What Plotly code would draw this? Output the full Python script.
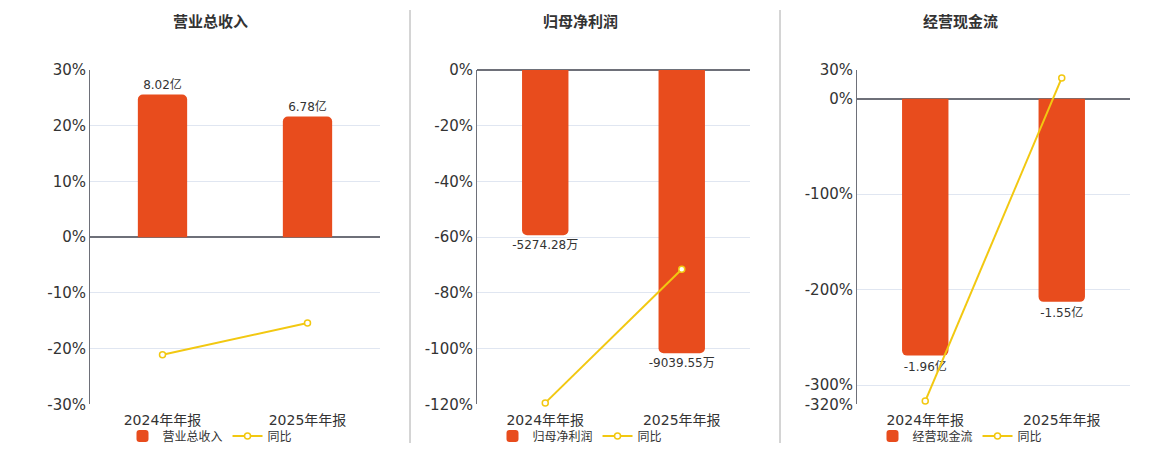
import plotly.graph_objects as go

categories = ['2024年年报', '2025年年报']

revenue = [8.02, 6.78]            # 亿
revenue_text = ['8.02亿', '6.78亿']
revenue_yoy = [-21.1, -15.4]      # %

profit = [-5274.28, -9039.55]     # 万
profit_text = ['-5274.28万', '-9039.55万']
profit_yoy = [-119.5, -71.5]

cashflow = [-1.96, -1.55]         # 亿
cashflow_text = ['-1.96亿', '-1.55亿']
cashflow_yoy = [-316.6, 21.7]

titles = ['营业总收入', '归母净利润', '经营现金流']

BAR = '#e84c1d'
LINE = '#f2c811'
AXIS = '#6e7079'
GRID = '#e0e6f1'
FONT = 'DejaVu Sans, Noto Sans CJK SC, sans-serif'

# page puts the figure 8px in from the top-left corner
OFF = 8
W, H = 1160 - OFF, 450 - OFF


def px_x(p):
    return (p - OFF) / W


def px_y(p):
    return 1 - (p - OFF) / H


ydom = [px_y(404.3), px_y(70)]
xdoms = [[px_x(90), px_x(380)], [px_x(477), px_x(750)], [px_x(857), px_x(1130)]]
centers = [px_x(210), px_x(580), px_x(960)]

# percentage axis ranges and ticks for each panel
pct_ranges = [[-30, 30], [-120, 0], [-320, 30]]
pct_ticks = [[-30, -20, -10, 0, 10, 20, 30],
             [-120, -100, -80, -60, -40, -20, 0],
             [-320, -300, -200, -100, 0, 30]]
# value per percent, so bars sit on the same zero as the line axis
scales = [8.02 / 25.6, 9039.55 / 101.7, 1.96 / 269]

panels = [
    (revenue, revenue_text, revenue_yoy, '营业总收入'),
    (profit, profit_text, profit_yoy, '归母净利润'),
    (cashflow, cashflow_text, cashflow_yoy, '经营现金流'),
]

fig = go.Figure()
layout = {}
for i, (vals, txt, yoy, name) in enumerate(panels):
    n = i + 1
    xa = 'x' if n == 1 else f'x{n}'
    yb = 'y' if n == 1 else f'y{n}'      # bars (base axis, hidden)
    yp = f'y{n + 3}'                       # percent axis (overlay, shown)
    lg = 'legend' if n == 1 else f'legend{n}'

    fig.add_trace(go.Bar(x=categories, y=vals, text=txt, name=name,
                         xaxis=xa, yaxis=yb, width=0.34,
                         marker=dict(color=BAR, line=dict(width=0)),
                         textposition='outside', cliponaxis=False,
                         constraintext='none',
                         textfont=dict(size=12, color='#333333'),
                         legend=lg))
    fig.add_trace(go.Scatter(x=categories, y=yoy, name='同比',
                             xaxis=xa, yaxis=yp, mode='lines+markers',
                             line=dict(color=LINE, width=2),
                             marker=dict(symbol='circle', size=6, color='white',
                                         line=dict(color=LINE, width=1.5)),
                             cliponaxis=False, legend=lg))

    xkey = 'xaxis' if n == 1 else f'xaxis{n}'
    ykey = 'yaxis' if n == 1 else f'yaxis{n}'
    layout[xkey] = dict(domain=xdoms[i], anchor=yb, type='category',
                        showline=False, showgrid=False, ticks='',
                        ticklabelstandoff=6,
                        tickfont=dict(size=14, color='#333333'))
    layout[ykey] = dict(domain=ydom, anchor=xa,
                        range=[r * scales[i] for r in pct_ranges[i]],
                        showticklabels=False, ticks='', showline=False,
                        showgrid=False, zeroline=False)
    layout[f'yaxis{n + 3}'] = dict(domain=ydom, anchor=xa, overlaying=yb, side='left',
                                   range=pct_ranges[i], tickmode='array',
                                   tickvals=pct_ticks[i],
                                   ticktext=[f'{v}%' for v in pct_ticks[i]],
                                   showline=True, linecolor=AXIS, linewidth=1,
                                   showgrid=True, gridcolor=GRID, gridwidth=1,
                                   zeroline=True, zerolinecolor=AXIS, zerolinewidth=2,
                                   tickfont=dict(size=15, color='#333333'))
    layout[lg] = dict(orientation='h', x=centers[i], xanchor='center',
                      y=px_y(436), yanchor='middle',
                      font=dict(size=12, color='#333333'),
                      bgcolor='rgba(0,0,0,0)')

annotations = []
for i, t in enumerate(titles):
    annotations.append(dict(text=f'<b>{t}</b>', x=centers[i], xanchor='center',
                            y=px_y(22), yanchor='middle', xref='paper', yref='paper',
                            showarrow=False, font=dict(size=15, color='#333333')))

shapes = []
for sx in [410, 780]:
    shapes.append(dict(type='line', xref='paper', yref='paper',
                       x0=px_x(sx), x1=px_x(sx), y0=px_y(443), y1=px_y(10),
                       line=dict(color='#aaaaaa', width=1)))

fig.update_layout(**layout)
fig.update_layout(width=W, height=H,
                  margin=dict(l=0, r=0, t=0, b=0, autoexpand=False),
                  plot_bgcolor='white', paper_bgcolor='white',
                  font=dict(family=FONT, color='#333333'),
                  barcornerradius=5, showlegend=True,
                  annotations=annotations, shapes=shapes)

fig.write_html("out.html")
